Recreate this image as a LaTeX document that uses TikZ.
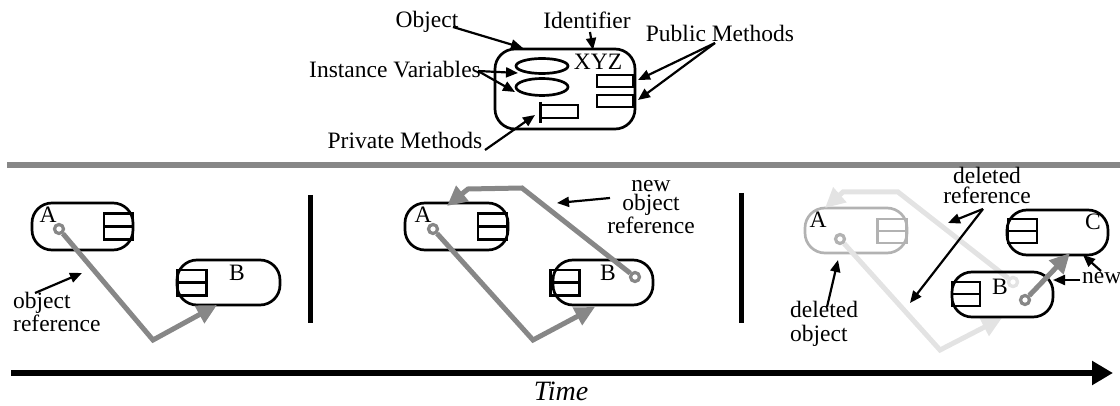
\documentclass[tikz,border=0pt]{standalone}
\usepackage{fontspec}
\setmainfont{Liberation Serif}
\usetikzlibrary{arrows.meta,shapes.geometric}
\definecolor{refgray}{gray}{0.53}
\definecolor{ghost}{gray}{0.70}
\definecolor{ghostref}{gray}{0.89}
\tikzset{
  lbl/.style={inner sep=0pt, font=\fontsize{23.5}{18}\selectfont},
  objbox/.style={draw, line width=2.7pt, rounded corners=20pt, inner sep=0pt},
  methbox/.style={draw, line width=2.7pt, inner sep=0pt, minimum width=29pt, minimum height=13pt},
  ivar/.style={ellipse, draw, line width=2.7pt, inner sep=0pt, minimum width=52pt},
  ptr/.style={line width=2.2pt, -{Triangle[length=12pt,width=10pt]}},
  ref/.style={draw=refgray, line width=5pt, line join=miter, -{Triangle[length=20pt,width=19pt]}},
  ghostarrow/.style={ref, draw=ghostref},
  dot/.style={circle, draw=refgray, fill=white, line width=3.2pt, minimum size=9pt, inner sep=0pt},
  bar/.style={line width=5pt},
}
\begin{document}
\begin{tikzpicture}[x=1pt, y=-1pt]
\useasboundingbox (0,0) rectangle (1120,406);

% ---------- anatomy of an object ----------
\node[objbox, minimum width=140pt, minimum height=80pt] (obj) at (565,89) {};
\node[ivar, minimum height=15pt] (iv1) at (542,66) {};
\node[ivar, minimum height=17pt] (iv2) at (542,87) {};
\node[lbl] (xyz) at (598,62) {XYZ};
\node[methbox, minimum width=36pt, minimum height=12pt] (pm1) at (615,81) {};
\node[methbox, minimum width=36pt, minimum height=12pt] (pm2) at (615,101) {};
\node[methbox, minimum width=38pt, minimum height=13pt] (pv) at (559,111.5) {};
\coordinate (pvt) at (540,102);
\coordinate (pvb) at (540,123);
\draw[line width=3pt] (pvt) -- (pvb);

\node[lbl] (tObj) at (427,22) {Object};
\node[lbl] (tId) at (587,20) {Identifier};
\node[lbl] (tPub) at (720,33) {Public Methods};
\node[lbl] (tIv) at (395,70) {Instance Variables};
\node[lbl] (tPriv) at (405,140) {Private Methods};

\coordinate (oS) at (453,27);   \coordinate (oE) at (523,48);
\coordinate (iS) at (590,32);   \coordinate (iE) at (593,50);
\coordinate (pS) at (715,43);   \coordinate (pE1) at (638,80); \coordinate (pE2) at (638,100);
\coordinate (vS) at (478,71);   \coordinate (vE1) at (518,73); \coordinate (vE2) at (515,92);
\coordinate (rS) at (485,150);  \coordinate (rE) at (535,115);
\draw[ptr] (oS) -- (oE);
\draw[ptr] (iS) -- (iE);
\draw[ptr] (pS) -- (pE1);
\draw[ptr] (pS) -- (pE2);
\draw[ptr] (vS) -- (vE1);
\draw[ptr] (vS) -- (vE2);
\draw[ptr] (rS) -- (rE);

% ---------- separator ----------
\coordinate (sepL) at (7,165);
\coordinate (sepR) at (1120,165);
\draw[draw=refgray, line width=6pt] (sepL) -- (sepR);

% ---------- stage 1 ----------
\node[objbox, minimum width=101pt, minimum height=47pt] (A1) at (82.5,226.5) {};
\node[methbox] (A1m1) at (118.5,220) {};
\node[methbox] (A1m2) at (118.5,233) {};
\node[lbl] (A1t) at (48,215) {A};
\node[dot] (dA1) at (59,229) {};
\node[objbox, minimum width=103pt, minimum height=45pt] (B1) at (228.5,282.5) {};
\node[methbox] (B1m1) at (192,276.5) {};
\node[methbox] (B1m2) at (192,289) {};
\node[lbl] (B1t) at (237,273) {B};
\coordinate (r1a) at (153,340);
\coordinate (r1b) at (217,305);
\draw[ref] (dA1) -- (r1a) -- (r1b);
\node[lbl, align=left, anchor=west, font=\fontsize{23.5}{23}\selectfont] (t1) at (13,312) {object\\reference};
\coordinate (t1s) at (35,293);
\coordinate (t1e) at (82,273);
\draw[ptr] (t1s) -- (t1e);
\coordinate (bar1t) at (310,195);
\coordinate (bar1b) at (310,323);
\draw[bar] (bar1t) -- (bar1b);

% ---------- stage 2 ----------
\node[objbox, minimum width=103pt, minimum height=47pt] (A2) at (456.5,226.5) {};
\node[methbox] (A2m1) at (492.5,220) {};
\node[methbox] (A2m2) at (492.5,233) {};
\node[lbl] (A2t) at (423,215) {A};
\node[dot] (dA2) at (433,229) {};
\node[objbox, minimum width=100pt, minimum height=45pt] (B2) at (603,282.5) {};
\node[methbox] (B2m1) at (565,276.5) {};
\node[methbox] (B2m2) at (565,289) {};
\node[lbl] (B2t) at (608,273) {B};
\node[dot] (dB2) at (635,277) {};
\coordinate (r2a) at (533,340);
\coordinate (r2b) at (595,307);
\draw[ref] (dA2) -- (r2a) -- (r2b);
\coordinate (r3a) at (522,188);
\coordinate (r3b) at (468,189);
\coordinate (r3c) at (447,206);
\draw[ref] (dB2) -- (r3a) -- (r3b) -- (r3c);
\node[lbl, align=center, font=\fontsize{23.5}{19}\selectfont] (t2) at (651,207) {new\\object\\reference};
\coordinate (t2s) at (610,198);
\coordinate (t2e) at (557,203);
\draw[ptr] (t2s) -- (t2e);
\coordinate (bar2t) at (741,193);
\coordinate (bar2b) at (741,323);
\draw[bar] (bar2t) -- (bar2b);

% ---------- stage 3 ----------
\node[objbox, draw=ghost, minimum width=102pt, minimum height=45pt] (A3) at (856,230.5) {};
\node[methbox, draw=ghost, minimum height=12pt] (A3m1) at (892,225) {};
\node[methbox, draw=ghost, minimum height=12pt] (A3m2) at (892,237) {};
\node[lbl] (A3t) at (818,220) {A};
\node[dot, draw=ghost] (dA3) at (840,239) {};
\node[dot, draw=ghostref] (dB3old) at (1013,282) {};
\coordinate (g1a) at (940,350);
\coordinate (g1b) at (1002,318);
\draw[ghostarrow] (dA3) -- (g1a) -- (g1b);
\coordinate (g2a) at (898,192);
\coordinate (g2b) at (843,192);
\coordinate (g2c) at (825,208);
\draw[ghostarrow] (dB3old) -- (g2a) -- (g2b) -- (g2c);

\node[objbox, minimum width=101pt, minimum height=45pt] (C3) at (1057.5,232.5) {};
\node[methbox, minimum height=12pt] (C3m1) at (1022.5,225) {};
\node[methbox, minimum height=12pt] (C3m2) at (1022.5,237) {};
\node[lbl] (C3t) at (1093,222) {C};
\node[objbox, minimum width=101pt, minimum height=45pt] (B3) at (1002.5,294.5) {};
\node[methbox, minimum width=28pt, minimum height=12pt] (B3m1) at (966,288) {};
\node[methbox, minimum width=28pt, minimum height=12pt] (B3m2) at (966,300) {};
\node[lbl] (B3t) at (1000,287) {B};
\node[dot, draw=ghostref] (dB3o) at (1013,282) {};
\node[dot] (dB3) at (1025,300) {};
\coordinate (r4) at (1070,253);
\draw[ref] (dB3) -- (r4);

\node[lbl, align=center, font=\fontsize{23.5}{20}\selectfont] (t3) at (987,185) {deleted\\reference};
\coordinate (t3s) at (983,209);
\coordinate (t3e1) at (948,223);
\coordinate (t3e2) at (910,303);
\draw[ptr] (t3s) -- (t3e1);
\draw[ptr] (t3s) -- (t3e2);
\node[lbl, align=left, anchor=west, font=\fontsize{23.5}{24}\selectfont] (t4) at (790,324) {deleted\\object};
\coordinate (t4s) at (827,307);
\coordinate (t4e) at (838,260);
\draw[ptr] (t4s) -- (t4e);
\node[lbl, anchor=west] (t5) at (1082,278) {new};
\coordinate (t5s) at (1080,280);
\coordinate (t5e1) at (1053,280);
\coordinate (t5s2) at (1101,271);
\coordinate (t5e2) at (1083,255);
\draw[ptr] (t5s) -- (t5e1);
\draw[ptr] (t5s2) -- (t5e2);

% ---------- time axis ----------
\coordinate (tL) at (11,373);
\coordinate (tR) at (1113,373);
\draw[line width=5.5pt, -{Triangle[length=21pt,width=23pt]}] (tL) -- (tR);
\node[lbl, font=\fontsize{28}{28}\selectfont\itshape] (time) at (561,391) {Time};
\end{tikzpicture}
\end{document}
